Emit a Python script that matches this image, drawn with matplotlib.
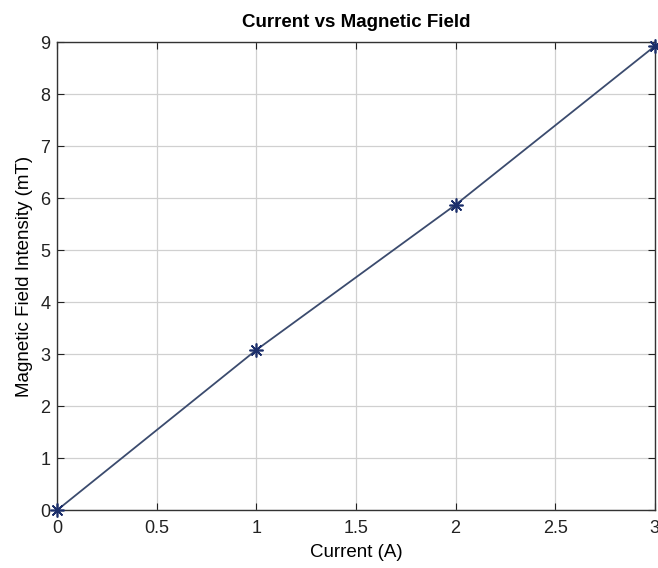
import matplotlib
matplotlib.use("Agg")
import matplotlib.pyplot as plt

current = [0, 1, 2, 3]
field = [0, 3.08, 5.87, 8.92]
x_ticks = [0, 0.5, 1, 1.5, 2, 2.5, 3]
y_ticks = list(range(0, 10))

plt.rcParams['font.family'] = ['Liberation Sans', 'DejaVu Sans']
fig = plt.figure(figsize=(6.58, 5.68), dpi=100)
ax = fig.add_axes([0.087, 0.102, 0.908, 0.824])
ax.plot(current, field, color='#3b4b6e', lw=1.3, marker=(8, 2, 0), markersize=10,
        markeredgecolor='#1c2f6b', markeredgewidth=1.2, clip_on=False, zorder=3)
ax.set_xlim(0, 3)
ax.set_ylim(0, 9)
ax.set_xticks(x_ticks)
ax.set_xticklabels([f"{v:g}" for v in x_ticks])
ax.set_yticks(y_ticks)
ax.grid(True, color='#d0d0d0', lw=0.9)
ax.set_axisbelow(True)
ax.tick_params(direction='in', labelsize=13, colors='#222222', length=5, top=True, right=True,
               labeltop=False, labelright=False)
ax.tick_params(axis='x', pad=7)
ax.tick_params(axis='y', pad=5)
for s in ax.spines.values():
    s.set_color('#333333')
    s.set_linewidth(1.0)
ax.set_title('Current vs Magnetic Field', fontsize=13.5, fontweight='bold', pad=11)
ax.set_xlabel('Current (A)', fontsize=13.5, labelpad=5)
ax.set_ylabel('Magnetic Field Intensity (mT)', fontsize=13.5, labelpad=5)
fig.savefig('out.png', dpi=100)
